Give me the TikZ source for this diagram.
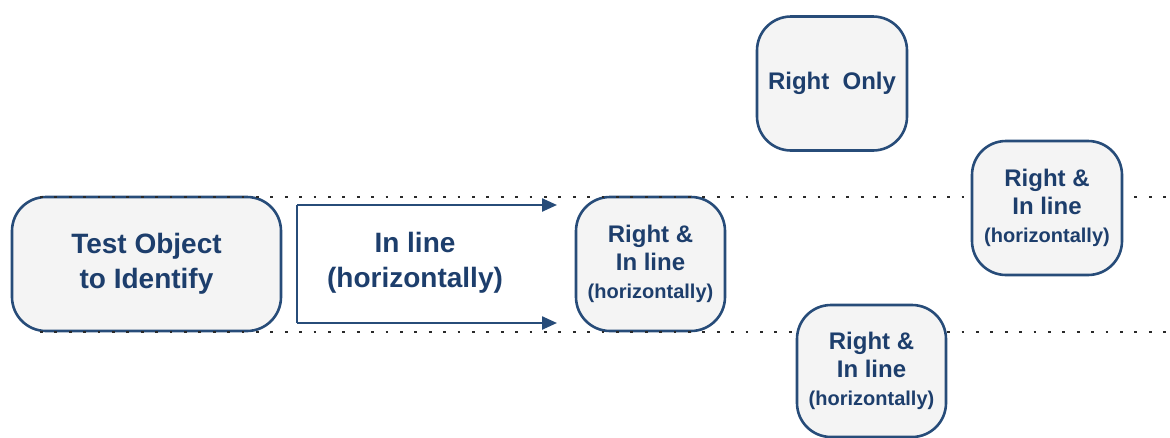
\documentclass[tikz,border=0pt]{standalone}
\usepackage{fontspec}
\setmainfont{Liberation Sans}
\usetikzlibrary{arrows.meta}
\definecolor{edgeblue}{HTML}{274C79}
\definecolor{textblue}{HTML}{1D3E6C}
\definecolor{boxfill}{HTML}{F4F4F4}
\definecolor{dotgray}{HTML}{2A2A2A}
\newcommand{\smlfs}{\fontsize{20}{28}\selectfont}
\tikzset{
  rbox/.style={draw=edgeblue, fill=boxfill, line width=2.6pt, rounded corners=34pt,
    align=center, text=textblue, inner sep=0pt},
  bigtext/.style={font=\bfseries\fontsize{28}{35}\selectfont},
  midtext/.style={font=\bfseries\fontsize{24}{28}\selectfont},
  dotline/.style={dotgray, line width=2.8pt, dash pattern=on 2.8pt off 11.6pt},
  flow/.style={edgeblue, line width=2.4pt},
  flowarrow/.style={flow, -{Triangle[length=15pt,width=13pt]}},
}
\begin{document}
\begin{tikzpicture}[x=1pt,y=-1pt]
\useasboundingbox (0,0) rectangle (1170,437);
% boxes under the guide lines
\node[rbox, bigtext, minimum width=269pt, minimum height=134pt] (obj) at (146.5,264)
  {Test Object\\to Identify};
\node[rbox, midtext, minimum width=149pt, minimum height=134pt] (r1) at (650.5,264)
  {Right \&\\In line\\\smlfs (horizontally)};
% dotted guide lines
\coordinate (dtl) at (40,197);
\coordinate (dtr) at (1170,197);
\coordinate (dbl) at (40,332);
\coordinate (dbr) at (1170,332);
\draw[dotline] (dtl) -- (dtr);
\draw[dotline] (dbl) -- (dbr);
% boxes over the guide lines
\node[rbox, midtext, minimum width=150pt, minimum height=134pt] (ronly) at (832,83.5)
  {Right\ \ Only};
\node[rbox, midtext, minimum width=150pt, minimum height=134pt] (r2) at (1047,208)
  {Right \&\\In line\\\smlfs (horizontally)};
\node[rbox, midtext, minimum width=149pt, minimum height=132pt] (r3) at (871.5,371)
  {Right \&\\In line\\\smlfs (horizontally)};
% in-line bracket arrows
\coordinate (tl) at (297,205);
\coordinate (bl) at (297,323);
\coordinate (tr) at (557,205);
\coordinate (br) at (557,323);
\draw[flow] (tl) -- (bl);
\draw[flowarrow] (tl) -- (tr);
\draw[flowarrow] (bl) -- (br);
\node[align=center, text=textblue, bigtext] (inl) at (415,263)
  {In line\\(horizontally)};
\end{tikzpicture}
\end{document}
